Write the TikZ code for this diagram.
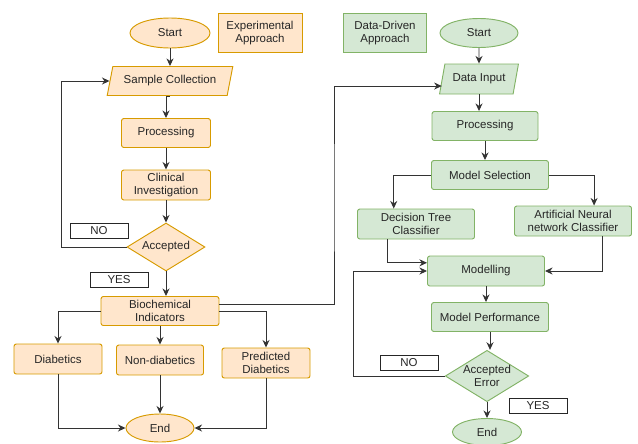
\documentclass[tikz,border=0pt]{standalone}
\usepackage{fontspec}
\setmainfont{Liberation Sans}
\usetikzlibrary{shapes.geometric,arrows.meta}
\definecolor{expfill}{HTML}{FFE6CC}
\definecolor{expline}{HTML}{D79B00}
\definecolor{datfill}{HTML}{D5E8D4}
\definecolor{datline}{HTML}{82B366}
\begin{document}
\begin{tikzpicture}[x=0.03cm, y=-0.03cm, font=\fontsize{9.8}{11.5}\selectfont, text=black!85,
  flow/.style={-{Stealth[length=6.5pt,width=6pt]}, line width=0.8pt, draw=black!80},
  expbox/.style={draw=expline, fill=expfill, line width=0.8pt, align=center, inner sep=1pt, rounded corners=2pt},
  datbox/.style={draw=datline, fill=datfill, line width=0.8pt, align=center, inner sep=1pt, rounded corners=2pt},
  tag/.style={draw=black!85, fill=white, line width=0.7pt, minimum width=1.74cm, minimum height=0.45cm, inner sep=0pt},
  oval/.style={ellipse, inner sep=0pt, rounded corners=0pt},
  slant/.style={trapezium, trapezium left angle=67, trapezium right angle=113, trapezium stretches=true, inner sep=0pt, rounded corners=0pt},
  rhomb/.style={diamond, aspect=1.625, inner sep=0pt, minimum width=2.34cm, minimum height=1.44cm, rounded corners=0pt}]
\useasboundingbox (0,0) rectangle (638,443);
% experimental approach
\node[expbox, oval, minimum width=2.4cm, minimum height=0.9cm] (e0) at (170,33){Start};
\node[expbox, rounded corners=0pt, minimum width=2.52cm, minimum height=1.17cm] (e1) at (260,33){Experimental\\Approach};
\node[expbox, slant, minimum width=3.78cm, minimum height=0.87cm] (e2) at (170,81){Sample Collection};
\node[expbox, minimum width=2.67cm, minimum height=0.87cm] (e3) at (166,133){Processing};
\node[expbox, minimum width=2.67cm, minimum height=0.9cm] (e4) at (166,185){Clinical\\Investigation};
\node[expbox, rhomb] (e5) at (166,247){Accepted};
\node[tag] (e6) at (99,230.5){NO};
\node[tag] (e7) at (119,279.5){YES};
\node[expbox, minimum width=3.54cm, minimum height=0.87cm] (e8) at (160,311){Biochemical\\Indicators};
\node[expbox, minimum width=2.64cm, minimum height=0.9cm] (e9) at (58,359){Diabetics};
\node[expbox, minimum width=2.61cm, minimum height=0.9cm] (e10) at (160,360){Non-diabetics};
\node[expbox, minimum width=2.64cm, minimum height=0.9cm] (e11) at (266,363){Predicted\\Diabetics};
\node[expbox, oval, minimum width=2.04cm, minimum height=0.84cm] (e12) at (160,428){End};
\coordinate (c0) at (61,247);
\draw[flow] (e0.south) -- (e0.south |- e2.north);
\draw[flow] (e2.south) -- (e2.south -| e3.north) -- (e3.north);
\draw[flow] (e3) -- (e4);
\draw[flow] (e4) -- (e5);
\draw[flow] (e5.south) -- (e5.south |- e8.north);
\draw[flow] (e5.west) -- (c0) |- (e2.west);
\draw[flow] (e8.west) -| (e9.north);
\draw[flow] (e8) -- (e10);
\draw[flow] (e8.east) -| (e11.north);
\draw[flow] (e9.south) |- (e12.west);
\draw[flow] (e10) -- (e12);
\draw[flow] (e11.south) |- (e12.east);
% data-driven approach
\node[datbox, rounded corners=0pt, minimum width=2.49cm, minimum height=1.17cm] (d0) at (385,33){Data-Driven\\Approach};
\node[datbox, oval, minimum width=2.34cm, minimum height=0.87cm] (d1) at (479,33){Start};
\node[datbox, slant, trapezium left angle=68, trapezium right angle=112, minimum width=2.37cm, minimum height=0.9cm] (d2) at (479,79){Data Input};
\node[datbox, minimum width=3.18cm, minimum height=0.87cm] (d3) at (485,126){Processing};
\node[datbox, minimum width=3.51cm, minimum height=0.87cm] (d4) at (490,175){Model Selection};
\node[datbox, minimum width=3.51cm, minimum height=0.9cm] (d5) at (416,224){Decision Tree\\Classifier};
\node[datbox, minimum width=3.51cm, minimum height=0.9cm] (d6) at (573,221){Artificial Neural\\network Classifier};
\node[datbox, minimum width=3.51cm, minimum height=0.9cm] (d7) at (486,271){Modelling};
\node[datbox, minimum width=3.51cm, minimum height=0.87cm] (d8) at (490,317){Model Performance};
\node[datbox, rhomb] (d9) at (487,376){Accepted\\Error};
\node[tag] (d10) at (409,362.5){NO};
\node[tag] (d11) at (538,405.5){YES};
\node[datbox, oval, minimum width=2.07cm, minimum height=0.81cm] (d12) at (487,432){End};
\coordinate (c1) at (334,200);
\coordinate (c2) at (353,376);
\draw[flow] ([yshift=6pt]e8.east) -| (c1) |- ([yshift=-6pt]d2.west);
\draw[flow] (d1) -- (d2);
\draw[flow] (d2.south) -- (d2.south |- d3.north);
\draw[flow] (d3.south) -- (d3.south |- d4.north);
\draw[flow] (d4.west) -| ([xshift=-19pt]d5.north);
\draw[flow] (d4.east) -| ([xshift=18pt]d6.north);
\draw[flow] ([xshift=-24pt]d5.south) |- ([yshift=7pt]d7.west);
\draw[flow] ([xshift=25pt]d6.south) |- (d7.east);
\draw[flow] (d7.south) -- (d7.south |- d8.north);
\draw[flow] (d8.south) -- (d8.south |- d9.north);
\draw[flow] (d9) -- (d12);
\draw[flow] (d9.west) -- (c2) |- (d7.west);
\end{tikzpicture}
\end{document}
